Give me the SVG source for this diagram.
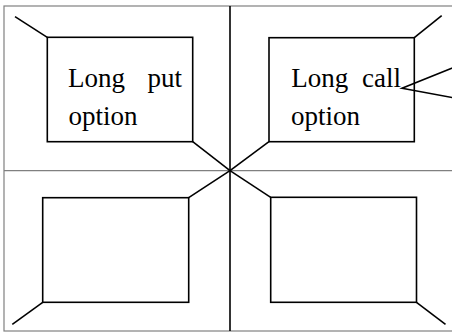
<svg xmlns="http://www.w3.org/2000/svg" width="452" height="332" viewBox="0 0 452 332">
  <style>
    .frame { fill: none; stroke: #808080; stroke-width: 1.2; }
    .box { fill: #ffffff; stroke: #000000; stroke-width: 1.6; }
    .ln { stroke: #000000; stroke-width: 1.6; fill: none; }
    .t { font-family: "Liberation Serif", "Times New Roman", serif; font-size: 27px; fill: #000000; }
  </style>
  <rect width="452" height="332" fill="#ffffff"/>
  <g id="frame">
    <rect class="frame" x="4" y="6" width="460" height="325"/>
    <line class="frame" x1="4" y1="170.7" x2="452" y2="170.7"/>
    <line class="ln" x1="230" y1="6" x2="230" y2="331"/>
  </g>
  <g id="long-put">
    <rect class="box" x="47.3" y="37.3" width="145.4" height="104.4"/>
    <text class="t" x="68" y="86.5">Long</text>
    <text class="t" x="182" y="86.5" text-anchor="end">put</text>
    <text class="t" x="68.5" y="124.7">option</text>
  </g>
  <g id="long-call">
    <rect class="box" x="269" y="37.7" width="145.3" height="104"/>
    <text class="t" x="291.3" y="86.5">Long</text>
    <text class="t" x="401" y="86.5" text-anchor="end">call</text>
    <text class="t" x="291" y="124.7">option</text>
  </g>
  <g id="bottom-left">
    <rect class="box" x="42.7" y="197.7" width="146" height="104.6"/>
  </g>
  <g id="bottom-right">
    <rect class="box" x="270.7" y="197.3" width="145.8" height="105"/>
  </g>
  <g id="connectors">
    <line class="ln" x1="15" y1="16.7" x2="47.3" y2="37.3"/>
    <line class="ln" x1="192.7" y1="141.7" x2="230" y2="170.7"/>
    <line class="ln" x1="414.3" y1="37.7" x2="441.7" y2="15.7"/>
    <line class="ln" x1="269" y1="141.7" x2="230" y2="170.7"/>
    <line class="ln" x1="188.7" y1="197.7" x2="230" y2="170.7"/>
    <line class="ln" x1="42.7" y1="302.3" x2="12.3" y2="324.3"/>
    <line class="ln" x1="270.7" y1="197.3" x2="230" y2="170.7"/>
    <line class="ln" x1="416.5" y1="302.3" x2="445.5" y2="324.3"/>
    <polyline class="ln" points="460,65 402,88.3 460,99"/>
  </g>
</svg>
